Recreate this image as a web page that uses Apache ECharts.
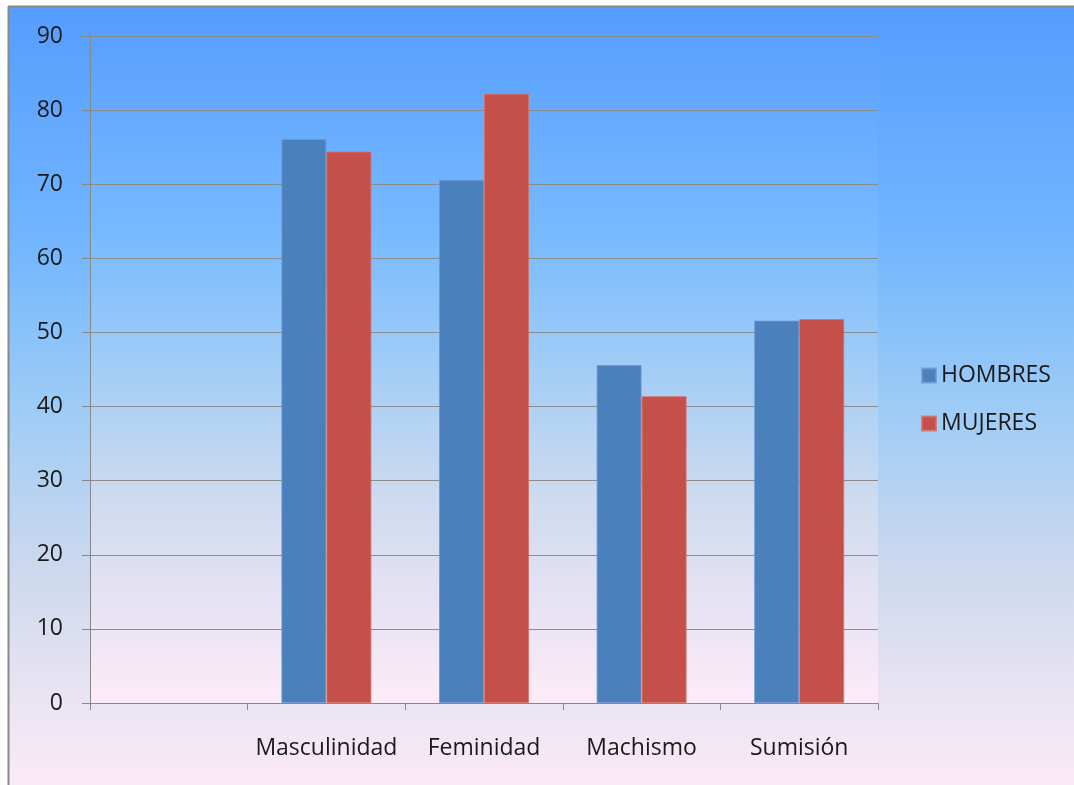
<!DOCTYPE html>
<html>
<head>
<meta charset="utf-8">
<script src="https://cdn.jsdelivr.net/npm/echarts@6/dist/echarts.min.js"></script>
<style>
html,body{margin:0;padding:0;background:#fff;}
#chart{width:1074px;height:785px;}
</style>
</head>
<body>
<div id="chart"></div>
<script>
const categories = ['', 'Masculinidad', 'Feminidad', 'Machismo', 'Sumisión'];
const hombres = [null, 76.1, 70.6, 45.6, 51.6];
const mujeres = [null, 74.4, 82.2, 41.4, 51.8];
const yTicks = { min: 0, max: 90, interval: 10 };

const FONT = '"Open Sans", "Liberation Sans", sans-serif';
const bgGrad = new echarts.graphic.LinearGradient(0, 0, 0, 1, [
  { offset: 0, color: '#559dff' },
  { offset: 0.3, color: '#72b6fe' },
  { offset: 0.5, color: '#9ccbf6' },
  { offset: 0.7, color: '#cad8ee' },
  { offset: 0.85, color: '#e6e2f2' },
  { offset: 1, color: '#fdebf6' }
]);
const plotGrad = new echarts.graphic.LinearGradient(0, 0, 0, 1, [
  { offset: 0, color: '#5aa0ff' },
  { offset: 0.3, color: '#78baff' },
  { offset: 0.5, color: '#a2cdf6' },
  { offset: 0.7, color: '#cfdbef' },
  { offset: 0.88, color: '#ebe4f4' },
  { offset: 1, color: '#fdecf7' }
]);

const chart = echarts.init(document.getElementById('chart'));
chart.setOption({
  backgroundColor: '#ffffff',
  animation: false,
  graphic: [
    { type: 'rect', z: -10, silent: true, shape: { x: 9, y: 7, width: 1070, height: 790 }, style: { fill: bgGrad } },
    { type: 'line', z: -9, silent: true, shape: { x1: 8.5, y1: 6, x2: 8.5, y2: 790 }, style: { stroke: '#8a8a8a', lineWidth: 2 } },
    { type: 'line', z: -9, silent: true, shape: { x1: 8, y1: 6.5, x2: 1080, y2: 6.5 }, style: { stroke: '#8a8a8a', lineWidth: 2 } }
  ],
  grid: {
    left: 90, right: 196, top: 36, bottom: 82,
    show: true, backgroundColor: plotGrad, borderWidth: 0
  },
  legend: {
    orient: 'vertical',
    left: 921, top: 364, padding: 0,
    itemWidth: 14, itemHeight: 14, itemGap: 25,
    icon: 'rect',
    textStyle: { fontFamily: FONT, fontSize: 23, color: '#1a1a1a', lineHeight: 23 },
    data: ['HOMBRES', 'MUJERES']
  },
  xAxis: {
    type: 'category',
    data: categories,
    boundaryGap: true,
    axisLine: { show: true, lineStyle: { color: '#888888', width: 1 } },
    axisTick: { show: true, length: 7, lineStyle: { color: '#888888' }, alignWithLabel: false },
    axisLabel: { fontFamily: FONT, fontSize: 23, color: '#1a1a1a', margin: 34, interval: 0 },
    splitLine: { show: false }
  },
  yAxis: {
    type: 'value',
    min: yTicks.min, max: yTicks.max, interval: yTicks.interval,
    axisLine: { show: true, lineStyle: { color: '#888888', width: 1 } },
    axisTick: { show: true, length: 8, lineStyle: { color: '#888888' } },
    axisLabel: { fontFamily: FONT, fontSize: 23, color: '#1a1a1a', margin: 27 },
    splitLine: { show: true, lineStyle: { color: '#8c8c8c', width: 1 } }
  },
  series: [
    {
      name: 'HOMBRES', type: 'bar', data: hombres,
      barWidth: 45, barGap: '0%',
      itemStyle: { color: '#4a80bc', borderColor: 'rgba(110,150,210,0.8)', borderWidth: 1 }
    },
    {
      name: 'MUJERES', type: 'bar', data: mujeres,
      barWidth: 45, barGap: '0%',
      itemStyle: { color: '#c5504a', borderColor: 'rgba(215,110,100,0.8)', borderWidth: 1 }
    }
  ]
});
</script>
</body>
</html>
